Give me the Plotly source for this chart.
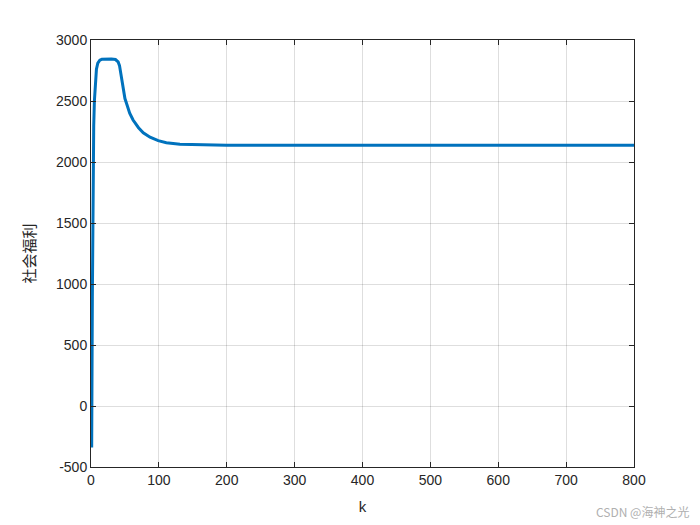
import plotly.graph_objects as go

k_vals = [0, 1, 2, 3, 4, 5, 6, 7, 8, 10, 13, 16, 20, 30, 36, 40, 42, 44, 46, 48, 50,
          53, 57, 62, 70, 77, 87, 99, 111, 131, 160, 200, 300, 400, 500, 600, 700, 800]
welfare = [-50, -340, 900, 1800, 2300, 2500, 2600, 2700, 2760, 2810, 2835, 2842, 2844,
           2844, 2840, 2820, 2790, 2720, 2640, 2575, 2520, 2470, 2400, 2344, 2281, 2240,
           2203, 2175, 2158, 2145, 2140, 2138, 2138, 2138, 2138, 2138, 2138, 2138]

x_ticks = [0, 100, 200, 300, 400, 500, 600, 700, 800]
y_ticks = [-500, 0, 500, 1000, 1500, 2000, 2500, 3000]
y_tick_text = ["-500", "0", "500", "1000", "1500", "2000", "2500", "3000"]

fig = go.Figure()
fig.add_trace(go.Scatter(x=k_vals, y=welfare, mode="lines",
                         line=dict(color="#0072BD", width=3), showlegend=False))

axis_common = dict(showgrid=True, gridcolor="rgba(0,0,0,0.13)", gridwidth=1,
                   showline=True, linecolor="#262626", linewidth=1, mirror="ticks",
                   ticks="inside", ticklen=5, tickcolor="#262626", zeroline=False,
                   tickfont=dict(family="Liberation Sans, Arial", size=14, color="#262626"))

fig.update_xaxes(range=[0, 800], tickvals=x_ticks, **axis_common,
                 title=dict(text="k", font=dict(family="Liberation Sans, Arial", size=15, color="#262626"), standoff=14))
fig.update_yaxes(range=[-500, 3000], tickvals=y_ticks, ticktext=y_tick_text, **axis_common,
                 title=dict(text="社会福利", font=dict(family="Noto Sans CJK SC", size=15, color="#262626"), standoff=16))

fig.add_annotation(text="CSDN @海神之光", xref="paper", yref="paper", x=1.105, y=-0.105,
                   xanchor="right", yanchor="middle", showarrow=False,
                   font=dict(family="Noto Sans CJK SC", size=12, color="#b0b0b0"))

fig.update_layout(width=700, height=525, margin=dict(l=83, r=74, t=32, b=66),
                  paper_bgcolor="white", plot_bgcolor="white")
fig.write_html("out.html")
